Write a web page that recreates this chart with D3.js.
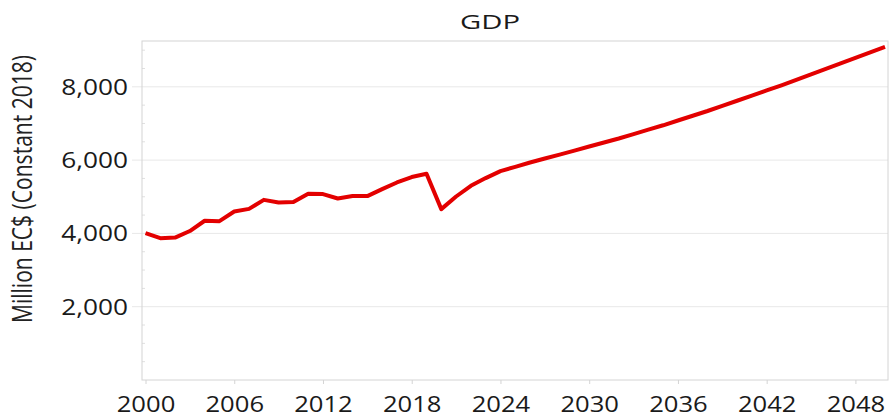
<!DOCTYPE html>
<html>
<head>
<meta charset="utf-8">
<script src="https://cdn.jsdelivr.net/npm/d3@7.9.0/dist/d3.min.js"></script>
<style>
  body { margin: 0; background: #fff; }
  svg { display: block; font-family: 'Open Sans', sans-serif; }
</style>
</head>
<body>
<svg width="894" height="418"></svg>
<script>
// GDP, million EC$ constant 2018
const years = [2000, 2001, 2002, 2003, 2004, 2005, 2006, 2007, 2008, 2009,
  2010, 2011, 2012, 2013, 2014, 2015, 2016, 2017, 2018, 2019,
  2020, 2021, 2022, 2023, 2024, 2025, 2026, 2027, 2028, 2029,
  2030, 2031, 2032, 2033, 2034, 2035, 2036, 2037, 2038, 2039,
  2040, 2041, 2042, 2043, 2044, 2045, 2046, 2047, 2048, 2049, 2050];
const gdp = [4006, 3870, 3886, 4065, 4345, 4334, 4597, 4670, 4915, 4843,
  4854, 5080, 5072, 4952, 5018, 5018, 5209, 5390, 5537, 5628,
  4662, 5007, 5299, 5510, 5700, 5815, 5935, 6045, 6150, 6260,
  6370, 6480, 6590, 6710, 6830, 6950, 7080, 7210, 7340, 7480,
  7620, 7760, 7900, 8040, 8190, 8340, 8490, 8640, 8790, 8940, 9090];
const xTicks = [2000, 2006, 2012, 2018, 2024, 2030, 2036, 2042, 2048];
const yTicks = [2000, 4000, 6000, 8000];
const yMinor = [500, 1000, 1500, 2500, 3000, 3500, 4500, 5000, 5500, 6500, 7000, 7500, 8500, 9000];

const svg = d3.select('svg');
const plotL = 142, plotR = 888, plotT = 41, plotB = 380;

const x = d3.scaleLinear().domain([2000, 2050]).range([145.5, 885]);
const y = d3.scaleLinear().domain([0, 9250]).range([plotB, plotT]);

// gridlines + outward ticks
svg.append('g')
  .selectAll('line')
  .data(yTicks)
  .join('line')
  .attr('x1', plotL - 10).attr('x2', plotR)
  .attr('y1', d => y(d)).attr('y2', d => y(d))
  .attr('stroke', '#e8e8e8').attr('stroke-width', 1);

// minor ticks inside left edge
svg.append('g')
  .selectAll('line')
  .data(yMinor)
  .join('line')
  .attr('x1', plotL).attr('x2', plotL + 3)
  .attr('y1', d => y(d)).attr('y2', d => y(d))
  .attr('stroke', '#e0e0e0');

// frame
svg.append('rect')
  .attr('x', plotL).attr('y', plotT)
  .attr('width', plotR - plotL).attr('height', plotB - plotT)
  .attr('fill', 'none').attr('stroke', '#d4d4d4').attr('stroke-width', 1);

// x axis
const gx = svg.append('g')
  .attr('transform', `translate(0,${plotB})`)
  .call(d3.axisBottom(x).tickValues(xTicks).tickFormat(d3.format('d')).tickSize(4).tickPadding(13));
gx.select('.domain').remove();
gx.selectAll('line').attr('stroke', '#d4d4d4');
gx.selectAll('text')
  .attr('font-size', 21).attr('fill', '#1a1a1a')
  .attr('font-family', "'Open Sans', sans-serif")
  .attr('transform', 'scale(1.22,1)');

// y axis labels
const gy = svg.append('g')
  .attr('transform', `translate(${plotL},0)`)
  .call(d3.axisLeft(y).tickValues(yTicks).tickFormat(d3.format(',')).tickSize(0));
gy.select('.domain').remove();
gy.selectAll('text')
  .attr('font-size', 21).attr('fill', '#1a1a1a')
  .attr('font-family', "'Open Sans', sans-serif")
  .attr('x', -14 / 1.25).attr('dy', '0.35em')
  .attr('transform', 'scale(1.25,1)');

// line
const line = d3.line()
  .x((d, i) => x(years[i]))
  .y(d => y(d));
svg.append('path')
  .datum(gdp)
  .attr('d', line)
  .attr('fill', 'none')
  .attr('stroke', '#e30000')
  .attr('stroke-width', 4)
  .attr('stroke-linejoin', 'round');

// title
svg.append('text')
  .attr('x', 490).attr('y', 29)
  .attr('text-anchor', 'middle')
  .attr('font-size', 20)
  .attr('fill', '#1a1a1a')
  .attr('textLength', 60).attr('lengthAdjust', 'spacingAndGlyphs')
  .text('GDP');

// y label
svg.append('text')
  .attr('transform', 'translate(31.5,189) rotate(-90) scale(1,1.38)')
  .attr('text-anchor', 'middle')
  .attr('font-size', 20)
  .attr('fill', '#222')
  .attr('textLength', 268).attr('lengthAdjust', 'spacingAndGlyphs')
  .text('Million EC$ (Constant 2018)');
</script>
</body>
</html>
